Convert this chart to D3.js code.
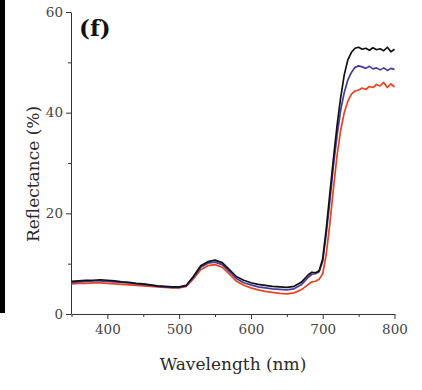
<!DOCTYPE html>
<meta charset="utf-8">
<title>Reflectance (f)</title>
<style>
body { margin: 0; background: #fff; }
.axis path, .axis line { stroke: #333; }
.axis text { font-family: "DejaVu Serif", serif; font-size: 13.5px; fill: #444; }
</style>
<svg width="422" height="390"></svg>
<script src="https://d3js.org/d3.v7.min.js"></script>
<script>

// wavelengths (nm): 10 nm steps up to 680, then 5 nm steps
var wavelengths = [350,360,370,380,390,400,410,420,430,440,450,460,470,480,490,500,510,520,530,540,550,560,570,580,590,600,610,620,630,640,650,660,670,680,
  685,690,695,700,705,710,715,720,725,730,735,740,745,750,755,760,765,770,775,780,785,790,795,800];

var blackVals = [6.5,6.6,6.7,6.7,6.8,6.7,6.6,6.4,6.3,6.1,6.0,5.8,5.6,5.5,5.4,5.4,5.7,7.5,9.6,10.4,10.7,10.2,8.8,7.4,6.7,6.2,5.9,5.7,5.5,5.4,5.3,5.5,6.3,7.8,
  8.3,8.2,8.6,11,17,24,31,37.5,43,47.5,50.5,52,52.8,53,52.6,52.8,52.4,52.9,52.5,52.7,52.3,53,52.1,52.6];

var blueVals = [6.3,6.4,6.5,6.6,6.6,6.5,6.4,6.3,6.2,6.0,5.9,5.7,5.5,5.4,5.3,5.3,5.6,7.3,9.3,10.1,10.3,9.8,8.4,7.0,6.2,5.8,5.4,5.2,5.0,4.9,4.8,5.0,5.8,7.3,
  7.9,8.0,8.4,10.5,16,22.5,29.5,35.5,40.5,44,46.5,48,49,49.3,49.1,48.8,49.2,48.7,48.9,48.5,48.9,48.4,48.8,48.6];

var redVals = [6.0,6.1,6.1,6.2,6.2,6.1,6.0,5.9,5.8,5.7,5.6,5.5,5.4,5.3,5.2,5.2,5.5,7.0,8.8,9.6,9.8,9.3,7.9,6.5,5.7,5.2,4.8,4.5,4.3,4.1,4.0,4.2,4.8,5.9,
  6.4,6.5,6.9,8.0,12,18,25,31.5,36.5,40,42.3,43.7,44.3,44.5,44.9,44.6,45.2,45.0,45.6,45.3,46.0,45.0,45.7,45.1];

var seriesNames = ["red", "blue", "black"];
var seriesColors = {black: "#111111", blue: "#4a3a9e", red: "#e8431f"};
var seriesVals = {black: blackVals, blue: blueVals, red: redVals};

var xTicks = [400, 500, 600, 700, 800];
var xMinor = [350, 450, 550, 650, 750];
var yTicks = [0, 20, 40, 60];
var yMinor = [10, 30, 50];

var svg = d3.select("svg");

// dark bar at the left border (edge of neighbouring panel)
svg.append("rect")
    .attr("x", 0).attr("y", 0)
    .attr("width", 5).attr("height", 313)
    .attr("fill", "#000");

var x = d3.scaleLinear().domain([350, 800]).range([71.5, 394.5]);
var y = d3.scaleLinear().domain([0, 60]).range([314, 12]);

// minor ticks
svg.append("g")
    .attr("class", "axis")
    .attr("transform", "translate(0,314)")
    .call(d3.axisBottom(x).tickValues(xMinor).tickSize(3).tickFormat(""))
    .select(".domain").remove();
svg.append("g")
    .attr("class", "axis")
    .attr("transform", "translate(71,0)")
    .call(d3.axisLeft(y).tickValues(yMinor).tickSize(3).tickFormat(""))
    .select(".domain").remove();

// major axes
svg.append("g")
    .attr("class", "axis")
    .attr("transform", "translate(0,314)")
    .call(d3.axisBottom(x).tickValues(xTicks).tickSize(5).tickPadding(5).tickSizeOuter(0));

svg.append("g")
    .attr("class", "axis")
    .attr("transform", "translate(71,0)")
    .call(d3.axisLeft(y).tickValues(yTicks).tickSize(5).tickPadding(3).tickSizeOuter(0));

// lines
var line = d3.line()
    .x(function(d, i) { return x(wavelengths[i]); })
    .y(function(d) { return y(d); });

seriesNames.forEach(function(name) {
  svg.append("path")
      .datum(seriesVals[name])
      .attr("fill", "none")
      .attr("stroke", seriesColors[name])
      .attr("stroke-width", 1.7)
      .attr("stroke-linejoin", "round")
      .attr("d", line);
});

// labels
svg.append("text")
    .attr("x", 233).attr("y", 370)
    .attr("text-anchor", "middle")
    .style("font-family", "'DejaVu Serif', serif")
    .style("font-size", "17px")
    .style("fill", "#2a2a2a")
    .text("Wavelength (nm)");

svg.append("text")
    .attr("transform", "translate(39,174) rotate(-90)")
    .attr("text-anchor", "middle")
    .style("font-family", "'DejaVu Serif', serif")
    .style("font-size", "17px")
    .style("fill", "#2a2a2a")
    .text("Reflectance (%)");

svg.append("text")
    .attr("x", 79).attr("y", 36)
    .style("font-family", "'DejaVu Serif', serif")
    .style("font-weight", "bold")
    .style("font-size", "23px")
    .style("fill", "#111")
    .text("(f)");

</script>
